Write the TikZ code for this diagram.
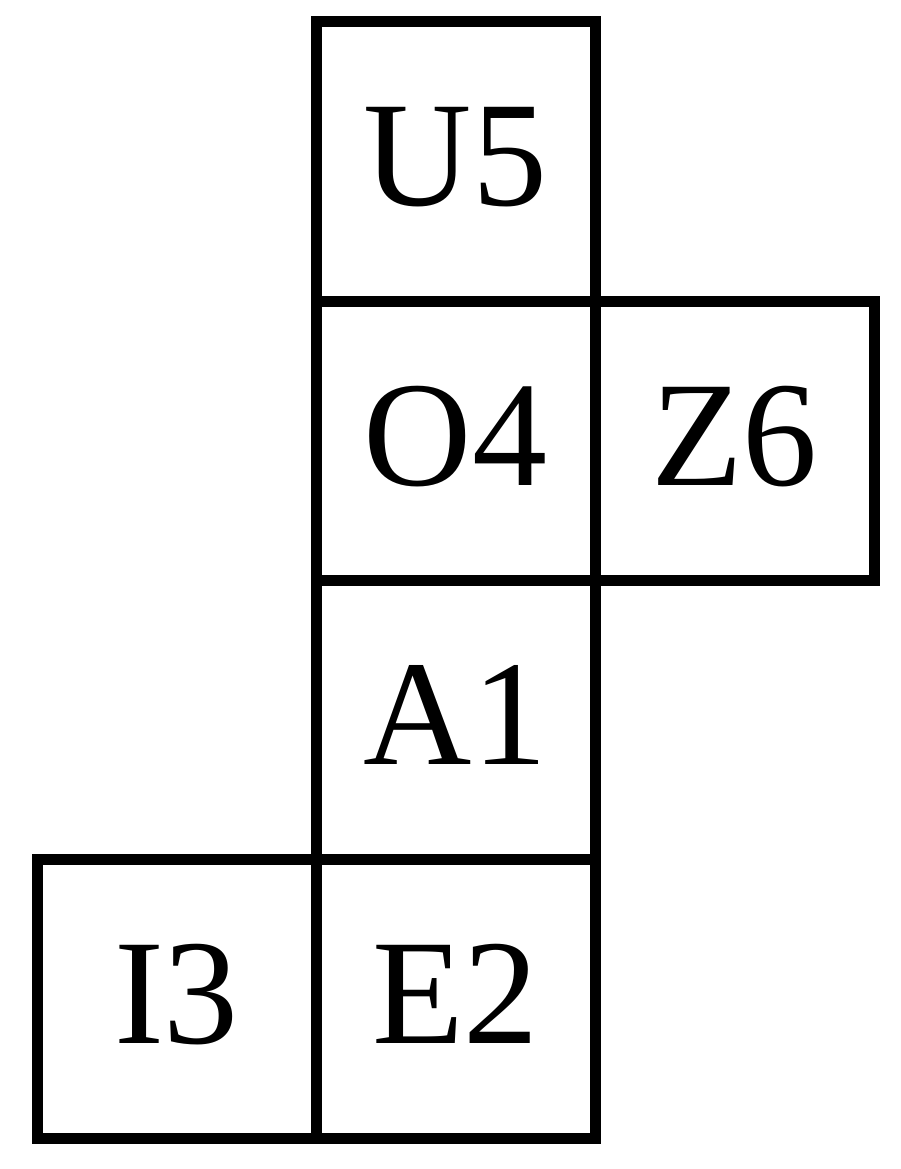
\documentclass[tikz,border=0pt]{standalone}
\usepackage{fontspec}
\setmainfont{Liberation Serif}
\usetikzlibrary{positioning}

\begin{document}
\begin{tikzpicture}[x=1pt,y=-1pt,
    cell/.style={draw=black, rectangle, line width=11pt, outer sep=0pt, inner sep=0pt,
        minimum size=279pt, text depth=10pt, font=\fontsize{150}{150}\selectfont},
    node distance=0pt]
        % Fix the page size
        \useasboundingbox (0,0) rectangle (900,1169);

        % Column of four faces
        \node[cell] (u5) at (455.5,161.5) {U5};
        \node[cell, below=of u5] (o4) {O4};
        \node[cell, below=of o4] (a1) {A1};
        \node[cell, below=of a1] (e2) {E2};

        % Side faces
        \node[cell, right=of o4] (z6) {Z6};
        \node[cell, left=of e2] (i3) {I3};
    \end{tikzpicture}
\end{document}
